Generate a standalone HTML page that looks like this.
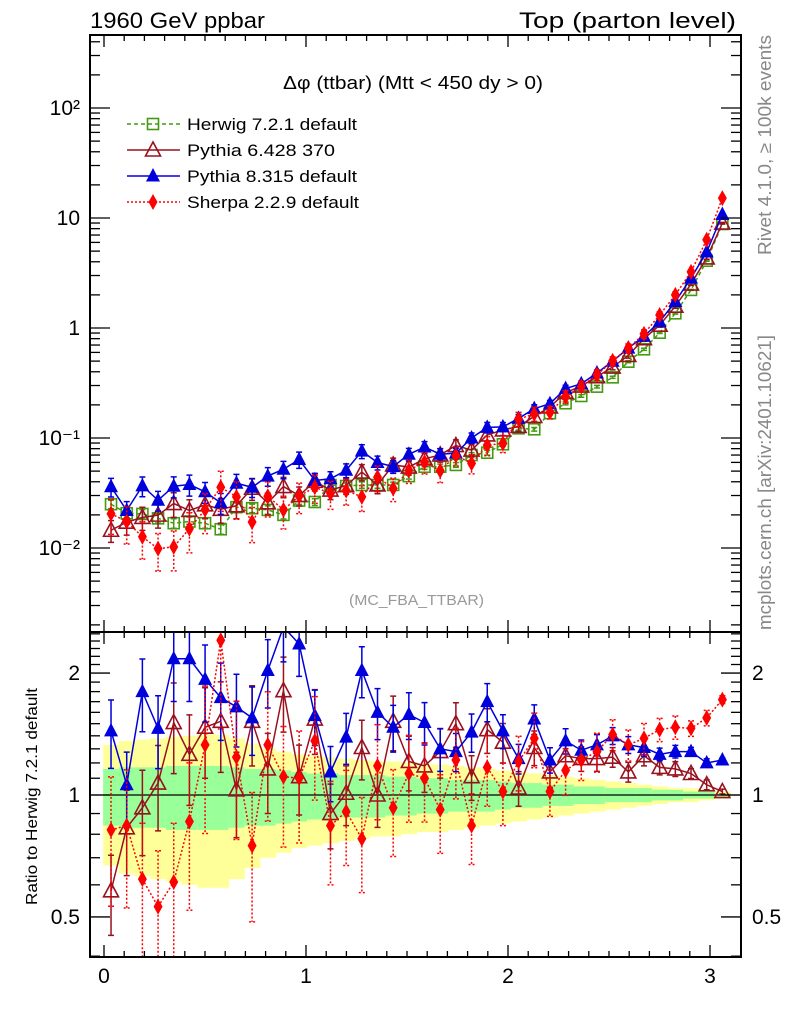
<!DOCTYPE html>
<html><head><meta charset="utf-8"><style>
body{margin:0;background:#fff}
svg text{font-family:"Liberation Sans",sans-serif}
</style></head><body>
<svg id="c" width="786" height="1024" xmlns="http://www.w3.org/2000/svg">
<defs>
<clipPath id="cm"><rect x="90" y="35" width="651" height="597"/></clipPath>
<clipPath id="cr"><rect x="90" y="632" width="651" height="325"/></clipPath>
</defs>
<g id="bands" clip-path="url(#cr)"></g>
<g id="ratio" clip-path="url(#cr)"></g>
<g id="main" clip-path="url(#cm)"></g>
<g id="axes"></g>
<rect x="90" y="35" width="651" height="597" fill="none" stroke="#000" stroke-width="2"/>
<rect x="90" y="632" width="651" height="325" fill="none" stroke="#000" stroke-width="2"/>
<text x="90" y="28" font-size="22" textLength="175" lengthAdjust="spacingAndGlyphs">1960 GeV ppbar</text>
<text x="519" y="28" font-size="22" textLength="217" lengthAdjust="spacingAndGlyphs">Top (parton level)</text>
<text x="283" y="89" font-size="18" textLength="260" lengthAdjust="spacingAndGlyphs">Δφ (ttbar) (Mtt &lt; 450 dy &gt; 0)</text>
<text x="349" y="605" font-size="15" fill="#999" textLength="135" lengthAdjust="spacingAndGlyphs">(MC_FBA_TTBAR)</text>
<text transform="translate(771,255) rotate(-90)" font-size="18" fill="#888" textLength="220" lengthAdjust="spacingAndGlyphs">Rivet 4.1.0, ≥ 100k events</text>
<text transform="translate(771,630) rotate(-90)" font-size="18" fill="#888" textLength="295" lengthAdjust="spacingAndGlyphs">mcplots.cern.ch [arXiv:2401.10621]</text>
<text transform="translate(37,905) rotate(-90)" font-size="16" textLength="217" lengthAdjust="spacingAndGlyphs">Ratio to Herwig 7.2.1 default</text>
<g id="legend"></g>
</svg>
<script>
const herwig=[0.0250,0.0207,0.0204,0.0186,0.0168,0.0174,0.0168,0.0148,0.0235,0.0230,0.0222,0.0200,0.0270,0.0262,0.0374,0.0366,0.0374,0.0374,0.0374,0.0450,0.0548,0.0548,0.0569,0.0700,0.0735,0.0877,0.1225,0.120,0.168,0.207,0.241,0.293,0.356,0.494,0.640,0.906,1.36,2.22,4.09,8.82];
const ratioP6=[0.58,0.83,0.93,1.07,1.51,1.26,1.47,1.52,1.03,1.52,1.16,1.81,1.11,1.54,0.90,1.01,1.31,1.00,1.52,1.21,1.18,1.28,1.50,1.11,1.45,1.35,1.04,1.31,1.14,1.25,1.23,1.23,1.24,1.14,1.25,1.17,1.16,1.13,1.06,1.02];
const ratioP8=[1.44,1.06,1.80,1.46,2.17,2.17,1.93,1.74,1.65,1.55,2.03,2.6,2.36,1.57,1.14,1.39,2.03,1.60,1.47,1.58,1.51,1.30,1.28,1.43,1.70,1.44,1.23,1.54,1.22,1.36,1.29,1.33,1.40,1.33,1.31,1.26,1.28,1.28,1.20,1.22];
const ratioSh=[0.82,0.84,0.62,0.53,0.61,0.86,1.33,2.41,1.24,0.75,1.33,1.11,1.10,1.36,0.84,0.91,0.78,1.18,0.93,1.13,1.10,0.92,1.22,0.84,1.17,1.02,1.21,1.38,1.02,1.15,1.22,1.28,1.41,1.33,1.38,1.45,1.47,1.46,1.55,1.72];
const bandGreen=[0.16,0.17,0.17,0.17,0.18,0.18,0.18,0.18,0.17,0.16,0.16,0.15,0.14,0.13,0.13,0.12,0.12,0.12,0.11,0.11,0.10,0.10,0.09,0.09,0.09,0.08,0.07,0.07,0.06,0.06,0.05,0.05,0.04,0.04,0.04,0.03,0.03,0.02,0.02,0.01];
const bandYellow=[0.33,0.36,0.37,0.38,0.39,0.40,0.41,0.41,0.38,0.34,0.30,0.28,0.26,0.25,0.24,0.23,0.22,0.21,0.21,0.20,0.19,0.19,0.18,0.17,0.16,0.15,0.14,0.13,0.12,0.11,0.10,0.09,0.08,0.07,0.06,0.05,0.04,0.04,0.03,0.02];
const xTicks=[0,1,2,3];
const mainTicks=[0.01,0.1,1,10,100];
const mainTickLabels=["10\u207B\u00B2","10\u207B\u00B9","1","10","10\u00B2"];
const ratioTicks=[0.5,1,2];
const ratioTickLabels=["0.5","1","2"];
const binLo=-0.004, binW=0.0776;

const NS="http://www.w3.org/2000/svg";
const X=v=>104+202*v;
const YM=v=>328-110*Math.log10(v);
const YR=v=>795-405*Math.log10(v);
const xc=i=>binLo+binW*(i+0.5);
function el(tag,attrs,parent){const e=document.createElementNS(NS,tag);for(const k in attrs)e.setAttribute(k,attrs[k]);parent.appendChild(e);return e;}
const gB=document.getElementById('bands'),gR=document.getElementById('ratio'),gM=document.getElementById('main'),gA=document.getElementById('axes'),gL=document.getElementById('legend');

herwig.forEach((h,i)=>{
  const x0=X(binLo+binW*i),x1=X(binLo+binW*(i+1));
  let r=el('rect',{x:x0,y:YR(1+bandYellow[i]),width:x1-x0+0.5,height:YR(1-bandYellow[i])-YR(1+bandYellow[i]),fill:'#ffff99'},gB);
  
  
  r=el('rect',{x:x0,y:YR(1+bandGreen[i]),width:x1-x0+0.5,height:YR(1-bandGreen[i])-YR(1+bandGreen[i]),fill:'#99ff99'},gB);
  
  
});
let ln=el('line',{x1:90,x2:741,y1:YR(1),y2:YR(1),stroke:'#000','stroke-width':1.3},gR);



function marker(g,type,x,y,col){
  let m;
  if(type==='sq') m=el('rect',{x:x-5.5,y:y-5.5,width:11,height:11,fill:'none',stroke:col,'stroke-width':1.6},g);
  else if(type==='tri') m=el('polygon',{points:`${x},${y-8} ${x-7.5},${y+6} ${x+7.5},${y+6}`,fill:'none',stroke:col,'stroke-width':1.6},g);
  else if(type==='ftri') m=el('polygon',{points:`${x},${y-8} ${x-7},${y+5.5} ${x+7},${y+5.5}`,fill:col},g);
  else m=el('polygon',{points:`${x},${y-8} ${x-4.5},${y} ${x},${y+8} ${x+4.5},${y}`,fill:col},g);
  return m;
}
function drawSeries(g,vals,errs,Y,col,type,dash,name){
  const pts=vals.map((v,i)=>[X(xc(i)),Y(v)]);
  const p=el('polyline',{points:pts.map(q=>q.join(',')).join(' '),fill:'none',stroke:col,'stroke-width':1.5,'stroke-dasharray':dash},g);
  
  
  vals.forEach((v,i)=>{
    const x=X(xc(i)),yu=Y(v*(1+errs[i])),yd=Y(Math.max(v*(1-errs[i]),1e-6));
    const e=el('path',{d:`M${x},${yu}V${yd}M${x-3},${yu}H${x+3}M${x-3},${yd}H${x+3}`,stroke:col,'stroke-width':1.5,fill:'none','stroke-dasharray':dash==='2,2'?'2,2':'none'},g);
    
    
    const m=marker(g,type,x,Y(v),col);
    
    
  });
}
const errH=bandGreen.map(v=>v*0.55);
const errP6=bandGreen.map(v=>v*1.4);
const errP8=bandGreen.map(v=>v*1.2);
const errSh=bandGreen.map(v=>v*2.2);
const cH='#449911',cP6='#99111f',cP8='#0000dd',cSh='#ff0000';
drawSeries(gM,herwig,errH,YM,cH,'sq','4,3','herwig');
drawSeries(gM,herwig.map((h,i)=>h*ratioP6[i]),errP6,YM,cP6,'tri','none','pythia6');
drawSeries(gM,herwig.map((h,i)=>h*ratioP8[i]),errP8,YM,cP8,'ftri','none','pythia8');
drawSeries(gM,herwig.map((h,i)=>h*ratioSh[i]),errSh,YM,cSh,'dia','2,2','sherpa');
drawSeries(gR,ratioP6,errP6,YR,cP6,'tri','none','pythia6-ratio');
drawSeries(gR,ratioP8,errP8,YR,cP8,'ftri','none','pythia8-ratio');
drawSeries(gR,ratioSh,errSh,YR,cSh,'dia','2,2','sherpa-ratio');

function tick(x1,y1,x2,y2,name){const t=el('line',{x1,y1,x2,y2,stroke:'#000','stroke-width':1.3},gA);}
for(let v=0;v<=3.1;v+=0.1){const x=X(v),maj=Math.abs(v-Math.round(v))<1e-6;const L=maj?12:6;
  tick(x,957,x,957-L,'x-tick');tick(x,632,x,632+L,'x-tick');tick(x,632,x,632-L,'x-tick');tick(x,35,x,35+L,'x-tick');}
xTicks.forEach(v=>{const t=el('text',{x:X(v),y:983,'font-size':21,'text-anchor':'middle'},gA);t.textContent=v;});
for(let d=-3;d<=2;d++)for(let m=1;m<10;m++){const v=m*Math.pow(10,d);const y=YM(v);if(y<35||y>632)continue;const L=m===1?20:10;
  tick(90,y,90+L,y,'y-tick');tick(741,y,741-L,y,'y-tick');}
mainTicks.forEach((v,i)=>{const t=el('text',{x:80,y:YM(v)+7,'font-size':21,'text-anchor':'end'},gA);t.textContent=mainTickLabels[i];});
[0.4,0.5,0.6,0.7,0.8,0.9,1,1.1,1.2,1.3,1.4,1.5,1.6,1.7,1.8,1.9,2,2.1,2.2,2.3,2.4,2.5].forEach(v=>{const y=YR(v);if(y<632||y>957)return;const maj=[0.5,1,2].includes(v);const L=maj?20:10;
  tick(90,y,90+L,y,'ratio-y-tick');tick(741,y,741-L,y,'ratio-y-tick');});
ratioTicks.forEach((v,i)=>{let t=el('text',{x:80,y:YR(v)+7,'font-size':21,'text-anchor':'end'},gA);t.textContent=ratioTickLabels[i];
  t=el('text',{x:752,y:YR(v)+7,'font-size':21},gA);t.textContent=ratioTickLabels[i];});

const leg=[["Herwig 7.2.1 default",cH,'sq','4,3',170],["Pythia 6.428 370",cP6,'tri','none',148],["Pythia 8.315 default",cP8,'ftri','none',170],["Sherpa 2.2.9 default",cSh,'dia','2,2',172]];
leg.forEach((l,i)=>{const y=124+i*26;
  const g=el('g',{},gL);
  
  
  el('line',{x1:127,x2:180,y1:y,y2:y,stroke:l[1],'stroke-width':1.5,'stroke-dasharray':l[3]},g);
  marker(g,l[2],153,y,l[1]);
  const t=el('text',{x:187,y:y+6,'font-size':17,textLength:l[4],lengthAdjust:'spacingAndGlyphs'},g);t.textContent=l[0];});
</script>
</body></html>
